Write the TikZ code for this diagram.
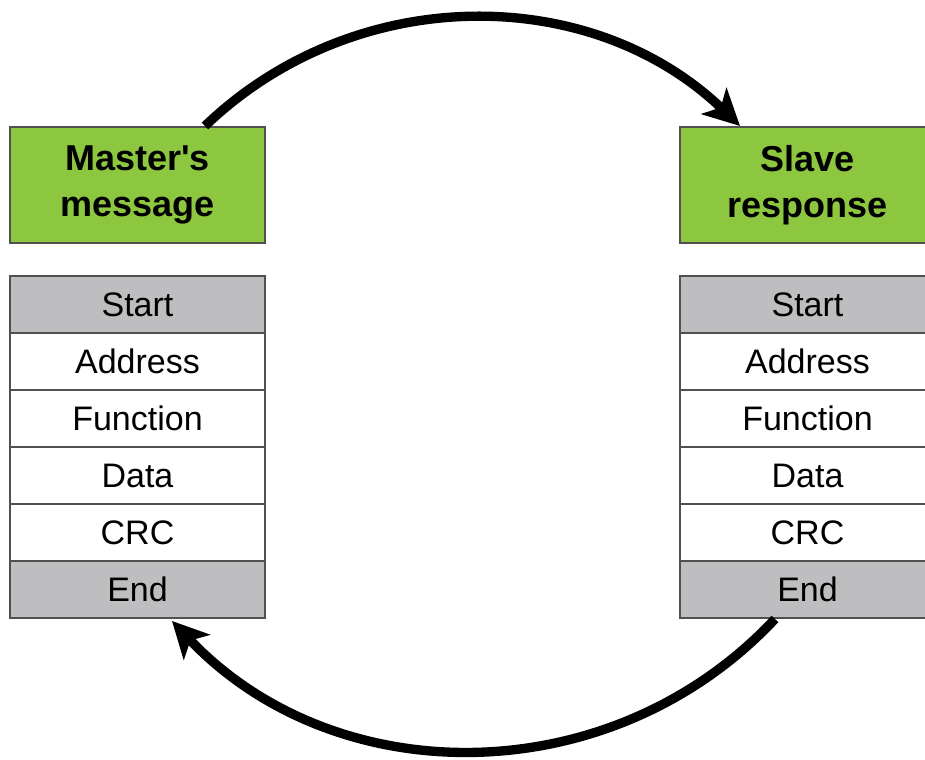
\documentclass[tikz,border=0pt]{standalone}
\usepackage{fontspec}
\setmainfont{Liberation Sans}
\usetikzlibrary{arrows.meta}
\definecolor{boxgreen}{RGB}{141,198,63}
\definecolor{cellgray}{RGB}{190,190,192}
\definecolor{edgegray}{RGB}{80,80,80}
\tikzset{
  head/.style={draw=edgegray, line width=1.5pt, fill=boxgreen, minimum width=191.25pt, minimum height=87pt, inner sep=0pt, align=center, font=\fontsize{27}{34.5}\selectfont\bfseries},
  cell/.style={draw=edgegray, line width=1.5pt, fill=white, minimum width=191.25pt, minimum height=42.75pt, inner sep=0pt, font=\fontsize{25.5}{30}\selectfont},
  endcell/.style={cell, fill=cellgray},
  flow/.style={line width=7pt, -{Stealth[length=27pt, width=27pt, inset=7pt]}}
}
\begin{document}
\begin{tikzpicture}[x=0.75pt, y=-0.75pt]
\clip (0,0) rectangle (925,760);
\fill[white] (0,0) rectangle (925,760);
% left column
\node[head] (mhead) at (137.5,185) {Master\textquotesingle s\\message};
\node[endcell] (mstart) at (137.5,304.5) {Start};
\node[cell] (maddr) at (137.5,361.5) {Address};
\node[cell] (mfunc) at (137.5,418.5) {Function};
\node[cell] (mdata) at (137.5,475.5) {Data};
\node[cell] (mcrc) at (137.5,532.5) {CRC};
\node[endcell] (mend) at (137.5,589.5) {End};
% right column
\node[head] (shead) at (807.5,185) {Slave\\response};
\node[endcell] (sstart) at (807.5,304.5) {Start};
\node[cell] (saddr) at (807.5,361.5) {Address};
\node[cell] (sfunc) at (807.5,418.5) {Function};
\node[cell] (sdata) at (807.5,475.5) {Data};
\node[cell] (scrc) at (807.5,532.5) {CRC};
\node[endcell] (send) at (807.5,589.5) {End};
% arrows
\coordinate (a1) at ([xshift=50.6pt]mhead.north);
\coordinate (a2) at ([xshift=-50.6pt]shead.north);
\coordinate (b1) at ([xshift=-24.4pt]send.south);
\coordinate (b2) at ([xshift=25.9pt, yshift=-1.5pt]mend.south);
\draw[flow] (a1) .. controls (355,-18) and (591,-17) .. (a2);
\draw[flow] (b1) .. controls (612,793) and (336,794) .. (b2);
\end{tikzpicture}
\end{document}
